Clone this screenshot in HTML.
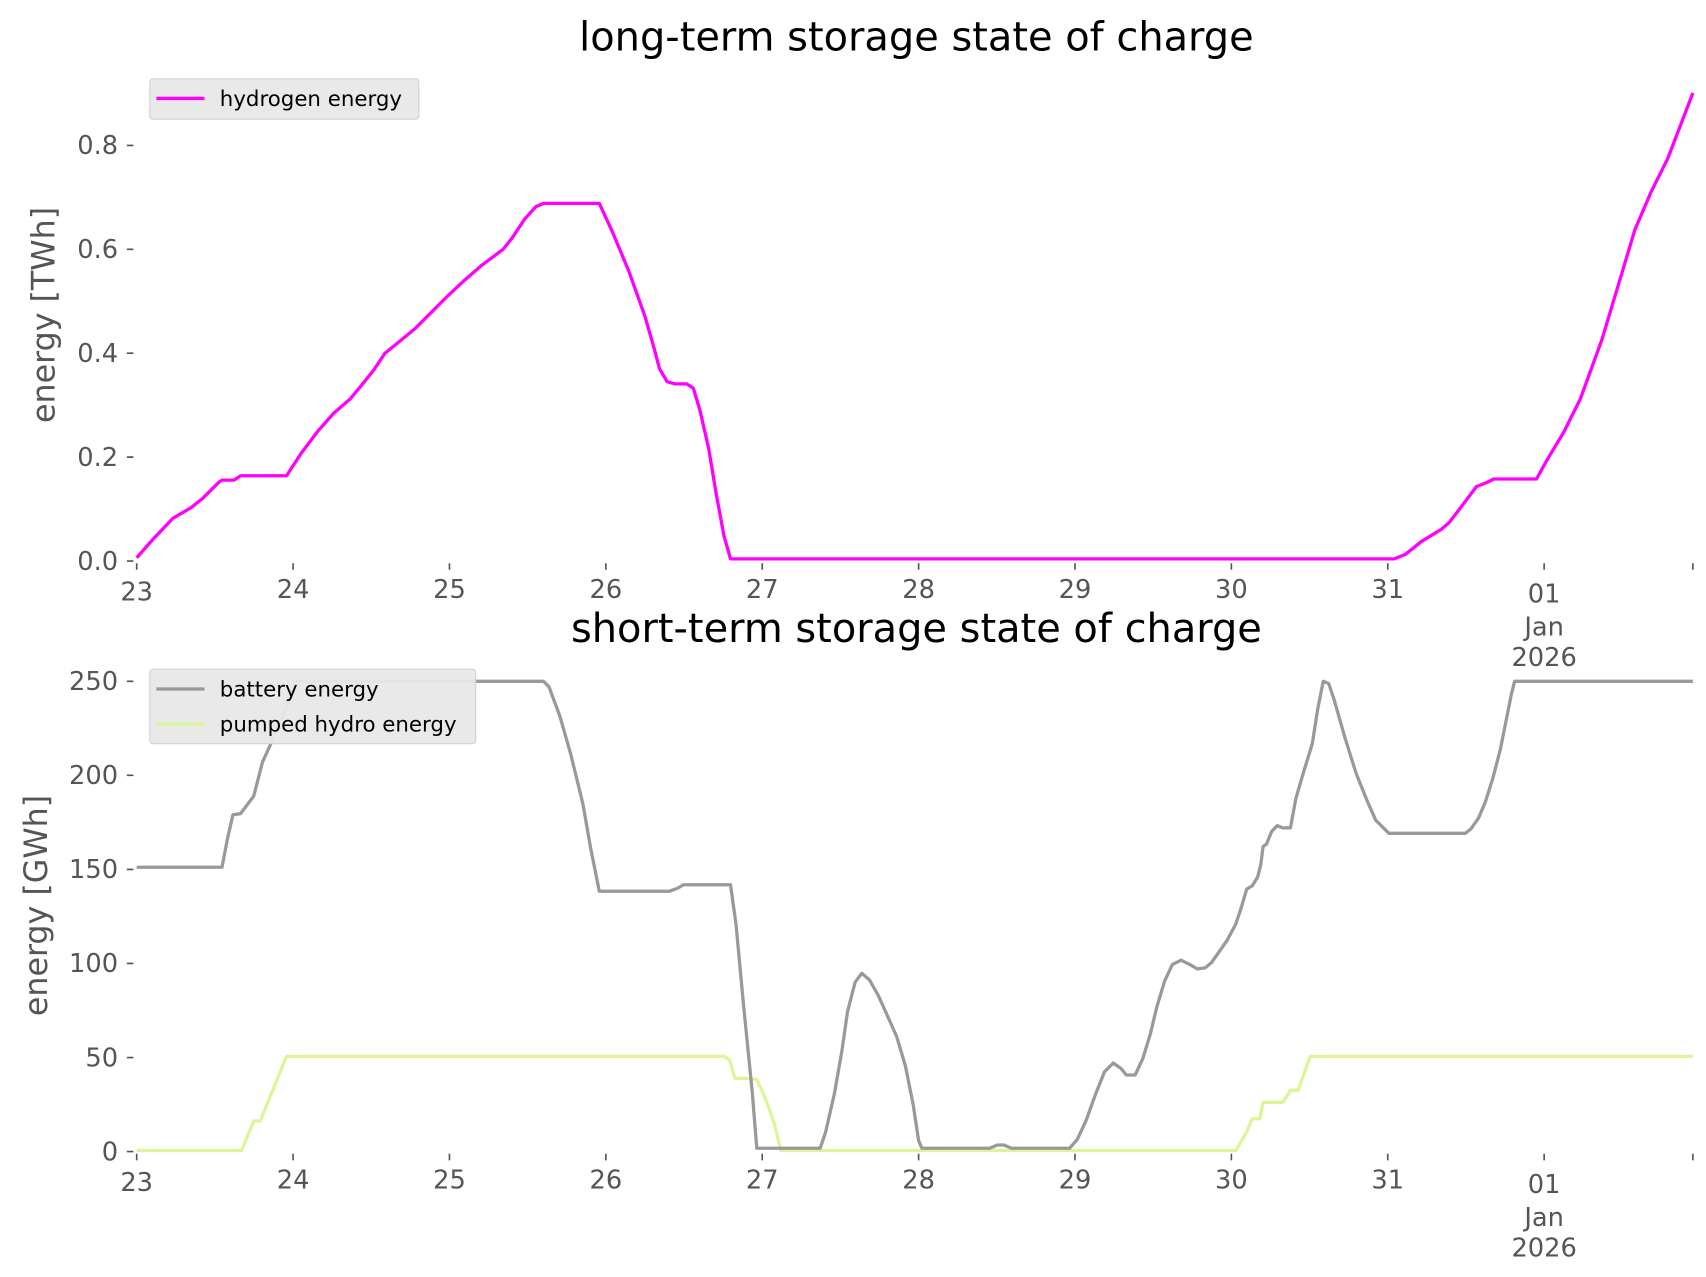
<!DOCTYPE html>
<html><head><style>html,body{margin:0;padding:0;background:#fff}svg{display:block}</style></head><body>
<svg width="1706" height="1277" viewBox="0 0 1560 1167.7" preserveAspectRatio="none" xmlns="http://www.w3.org/2000/svg" font-family="DejaVu Sans, Liberation Sans, sans-serif">
<rect width="1560" height="1168" fill="#fff"/>
<text x="838" y="46" font-size="36.5" text-anchor="middle" fill="#000">long-term storage state of charge</text>
<text x="838" y="587" font-size="36.5" text-anchor="middle" fill="#000">short-term storage state of charge</text>
<g fill="#555" font-size="23.5">
<text transform="translate(50,288) rotate(-90)" text-anchor="middle" font-size="29">energy [TWh]</text>
<text transform="translate(43,828) rotate(-90)" text-anchor="middle" font-size="29">energy [GWh]</text>
<g text-anchor="end">
<text x="108" y="521">0.0</text><text x="108" y="426">0.2</text><text x="108" y="331">0.4</text><text x="108" y="236">0.6</text><text x="108" y="141">0.8</text>
<text x="108" y="1061">0</text><text x="108" y="975">50</text><text x="108" y="889">100</text><text x="108" y="803">150</text><text x="108" y="717">200</text><text x="108" y="631">250</text>
</g>
<g text-anchor="middle">
<text x="125" y="549">23</text><text x="268" y="547">24</text><text x="411" y="547">25</text><text x="554" y="547">26</text><text x="697" y="547">27</text><text x="840" y="547">28</text><text x="983" y="547">29</text><text x="1126" y="547">30</text><text x="1269" y="547">31</text><text x="1412" y="551">01</text><text x="1412" y="581">Jan</text><text x="1412" y="609">2026</text>
<text x="125" y="1089">23</text><text x="268" y="1087">24</text><text x="411" y="1087">25</text><text x="554" y="1087">26</text><text x="697" y="1087">27</text><text x="840" y="1087">28</text><text x="983" y="1087">29</text><text x="1126" y="1087">30</text><text x="1269" y="1087">31</text><text x="1412" y="1091">01</text><text x="1412" y="1121">Jan</text><text x="1412" y="1149">2026</text>
</g>
</g>
<g stroke="#555" stroke-width="1.5">
<path d="M116 513h6M116 418h6M116 323h6M116 228h6M116 133h6M116 1053h6M116 967h6M116 881h6M116 795h6M116 709h6M116 623h6"/>
<path d="M125 515v6M268 515v6M411 515v6M554 515v6M697 515v6M840 515v6M983 515v6M1126 515v6M1269 515v6M1412 515v6M1548 515v6"/>
<path d="M125 1055v6M268 1055v6M411 1055v6M554 1055v6M697 1055v6M840 1055v6M983 1055v6M1126 1055v6M1269 1055v6M1412 1055v6M1548 1055v6"/>
</g>
<g fill="none" stroke-width="3" stroke-linejoin="round">
<polyline stroke="#ff00ff" points="125,510 140,493 158,474 175,464 185,456 200,441 203,439 214,439 220,435 262,435 275,415 290,395 305,378 320,365 330,353 342,338 352,323 368,310 380,300 395,285 410,270 425,256 440,243 452,234 460,228 468,218 480,200 490,189 497,186 548,186 560,212 575,248 590,290 598,318 603,337 610,349 617,351 628,351 634,355 640,375 648,410 655,452 662,490 668,511 1130,511 1275,511 1285,507 1300,495 1318,484 1325,478 1335,465 1350,445 1360,441 1366,438 1405,438 1415,420 1430,395 1445,365 1465,310 1480,260 1495,210 1510,175 1525,145 1548,85"/>
<polyline stroke="#dcf598" points="125,1052 221,1052 232,1025 238,1025 262,966 662,966 667,969 672,986 680,986 692,987 700,1005 708,1027 714,1052 1130,1052 1140,1035 1145,1023 1152,1023 1155,1008 1173,1008 1180,997 1187,997 1198,966 1548,966"/>
<polyline stroke="#999" points="125,793 203,793 208,767 213,745 220,744 232,728 240,697 250,675 260,651 267,632 272,623 497,623 502,628 512,655 522,690 533,735 540,775 548,815 612,815 620,812 625,809 668,809 673,845 680,920 688,1000 692,1050 750,1050 755,1035 763,1000 770,960 775,925 782,898 788,890 795,896 803,910 812,930 820,948 828,975 835,1010 840,1043 843,1050 905,1050 912,1047 918,1047 925,1050 978,1050 985,1042 993,1025 1002,1000 1010,980 1018,972 1025,977 1030,983 1038,983 1045,968 1052,945 1058,920 1065,897 1072,882 1080,878 1088,882 1095,886 1102,885 1108,880 1115,870 1122,860 1130,845 1135,830 1140,813 1145,810 1150,802 1153,790 1155,774 1158,772 1163,760 1168,755 1173,757 1180,757 1185,730 1192,706 1200,680 1205,648 1210,623 1215,625 1220,640 1230,675 1240,707 1250,732 1258,750 1270,762 1340,762 1345,758 1352,748 1358,734 1365,712 1372,685 1378,655 1382,635 1385,623 1548,623"/>
</g>
<rect x="137" y="72" width="246" height="37" rx="3" fill="#e8e8e8" fill-opacity="0.95" stroke="#d0d0d0"/>
<line x1="143" y1="90" x2="187" y2="90" stroke="#ff00ff" stroke-width="3"/>
<text x="201" y="97" font-size="19.5" fill="#000">hydrogen energy</text>
<rect x="137" y="612" width="298" height="68" rx="3" fill="#e8e8e8" fill-opacity="0.95" stroke="#d0d0d0"/>
<line x1="143" y1="630" x2="187" y2="630" stroke="#999" stroke-width="3"/>
<text x="201" y="637" font-size="19.5" fill="#000">battery energy</text>
<line x1="143" y1="662" x2="187" y2="662" stroke="#dcf598" stroke-width="3"/>
<text x="201" y="669" font-size="19.5" fill="#000">pumped hydro energy</text>
</svg>
</body></html>
